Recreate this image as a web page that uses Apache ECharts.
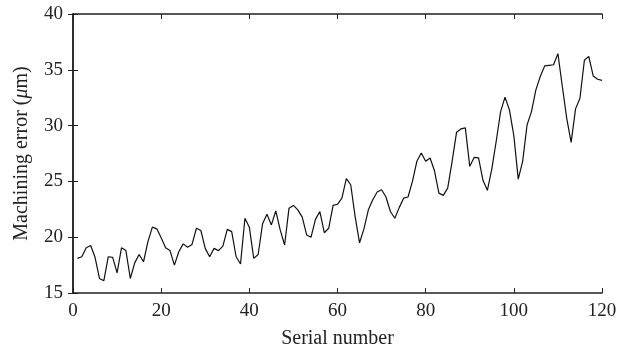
<!DOCTYPE html>
<html>
<head>
<meta charset="utf-8">
<script src="https://cdn.jsdelivr.net/npm/echarts@6/dist/echarts.min.js"></script>
<style>
  html, body { margin: 0; padding: 0; background: #fff; }
  #chart { width: 635px; height: 355px; }
</style>
</head>
<body>
<div id="chart"></div>
<script>
// machining error per serial number (1..120)
const errorValues = [
  18.1, 18.25, 19.05, 19.25, 18.2, 16.3, 16.1, 18.25, 18.2, 16.8,
  19.05, 18.8, 16.3, 17.7, 18.45, 17.8, 19.6, 20.9, 20.75, 19.95,
  19.05, 18.8, 17.5, 18.7, 19.4, 19.1, 19.35, 20.8, 20.6, 19.0,
  18.25, 19.0, 18.8, 19.2, 20.7, 20.5, 18.25, 17.6, 21.7, 20.9,
  18.1, 18.45, 21.2, 22.05, 21.1, 22.35, 20.65, 19.3, 22.6, 22.85,
  22.45, 21.8, 20.2, 20.0, 21.6, 22.3, 20.4, 20.8, 22.85, 22.95,
  23.5, 25.25, 24.7, 21.85, 19.5, 20.75, 22.45, 23.35, 24.05, 24.25,
  23.6, 22.3, 21.7, 22.65, 23.5, 23.6, 25.0, 26.8, 27.55, 26.8,
  27.1, 25.95, 23.95, 23.75, 24.4, 26.8, 29.4, 29.7, 29.8, 26.35,
  27.15, 27.1, 25.1, 24.2, 26.1, 28.6, 31.25, 32.55, 31.4, 29.1,
  25.2, 26.8, 30.05, 31.25, 33.2, 34.4, 35.35, 35.4, 35.45, 36.45,
  33.5, 30.65, 28.5, 31.5, 32.45, 35.85, 36.2, 34.45, 34.15, 34.05
];
const serialNumbers = errorValues.map((_, i) => i + 1);
const lineData = serialNumbers.map((n, i) => [n, errorValues[i]]);

const xTicks = [0, 20, 40, 60, 80, 100, 120];
const yTicks = [15, 20, 25, 30, 35, 40];

const font = '"Liberation Serif", "DejaVu Serif", serif';
const axisLine = { show: true, lineStyle: { color: '#222', width: 1.5 } };
const axisTick = { show: true, inside: true, length: 5, lineStyle: { color: '#222', width: 1 } };

const chart = echarts.init(document.getElementById('chart'));
chart.setOption({
  animation: false,
  grid: { left: 73, right: 33, top: 14, bottom: 62 },
  xAxis: [
    {
      type: 'value',
      min: xTicks[0],
      max: xTicks[xTicks.length - 1],
      interval: 20,
      axisLine, axisTick,
      splitLine: { show: false },
      axisLabel: { color: '#222', fontFamily: font, fontSize: 19, margin: 9 },
      name: 'Serial number',
      nameLocation: 'middle',
      nameGap: 36,
      nameTextStyle: { color: '#222', fontFamily: font, fontSize: 20 }
    },
    {
      type: 'value', position: 'top',
      min: xTicks[0], max: xTicks[xTicks.length - 1], interval: 20,
      axisLine, axisTick, splitLine: { show: false }, axisLabel: { show: false }
    }
  ],
  yAxis: [
    {
      type: 'value',
      min: yTicks[0],
      max: yTicks[yTicks.length - 1],
      interval: 5,
      axisLine, axisTick,
      splitLine: { show: false },
      axisLabel: { color: '#222', fontFamily: font, fontSize: 19, margin: 10 },
      name: '{n|Machining error (}{i|μ}{n|m)}',
      nameLocation: 'middle',
      nameGap: 41,
      nameRotate: 90,
      nameTextStyle: {
        rich: {
          n: { color: '#222', fontFamily: font, fontSize: 20 },
          i: { color: '#222', fontFamily: font, fontSize: 20, fontStyle: 'italic' }
        }
      }
    },
    {
      type: 'value', position: 'right',
      min: yTicks[0], max: yTicks[yTicks.length - 1], interval: 5,
      axisLine, axisTick, splitLine: { show: false }, axisLabel: { show: false }
    }
  ],
  series: [
    {
      type: 'line',
      data: lineData,
      showSymbol: false,
      lineStyle: { color: '#111', width: 1.2 }
    }
  ]
});
</script>
</body>
</html>
